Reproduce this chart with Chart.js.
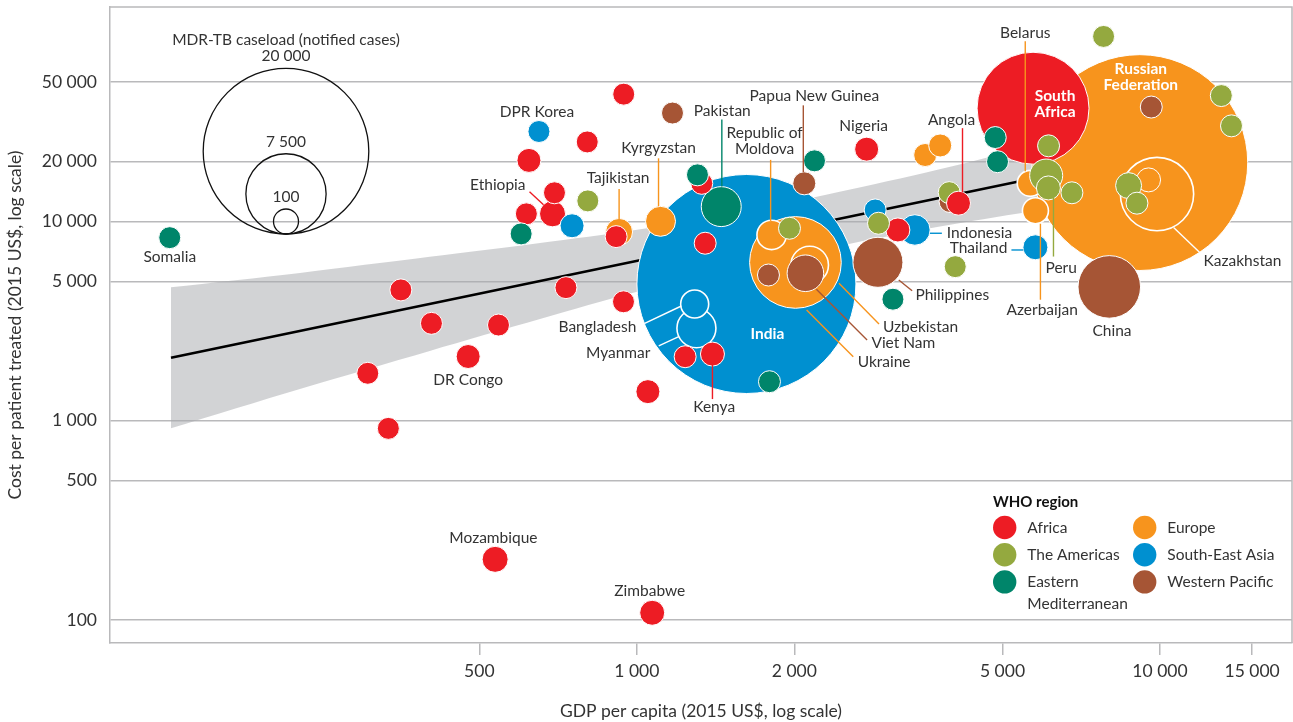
<!DOCTYPE html>
<html>
<head>
<meta charset="utf-8">
<title>MDR-TB treatment cost vs GDP per capita</title>
<script src="https://cdn.jsdelivr.net/npm/chart.js@4.4.1/dist/chart.umd.min.js"></script>
<style>
  html, body { margin: 0; padding: 0; background: #fff; }
</style>
</head>
<body>
<canvas id="chart" width="1293" height="722"></canvas>
<script>
// Countries in drawing order (largest first so small bubbles sit on top)
const countries = [
  'India', 'Russian Federation', 'South Africa', 'Ukraine', 'Kazakhstan', 'China', 'Philippines',
  'Pakistan', 'Myanmar', 'Uzbekistan', 'Viet Nam', 'Belarus', 'Azerbaijan', 'Peru', 'Indonesia',
  'Kyrgyzstan', 'Republic of Moldova', 'Bangladesh', 'Tajikistan', 'Ethiopia', 'Mozambique',
  'Zimbabwe', 'Thailand', '', '', 'DR Congo', 'Kenya', '', '', 'Nigeria', '', '', '', '', 'Angola', '',
  'Somalia', '', '', '', '', '', '', '', '', '', '', '', 'DPR Korea', '', '', '', '', '', '', '', '',
  '', '', '', 'Papua New Guinea', '', '', '', '', '', '', '', '', '', '', '', '', '', '', '', ''
];
const regions = [
  'SEAR', 'EUR', 'AFR', 'EUR', 'EUR', 'WPR', 'WPR',
  'EMR', 'SEAR', 'EUR', 'WPR', 'EUR', 'EUR', 'AMR', 'SEAR',
  'EUR', 'EUR', 'SEAR', 'EUR', 'AFR', 'AFR',
  'AFR', 'SEAR', 'EUR', 'AMR', 'AFR', 'AFR', 'AFR', 'AFR', 'AFR', 'SEAR', 'AMR', 'WPR', 'AMR', 'AFR', 'AFR',
  'EMR', 'AFR', 'AFR', 'AFR', 'AFR', 'AFR', 'AFR', 'AFR', 'AFR', 'AFR', 'EMR', 'AFR', 'SEAR', 'AFR', 'AFR', 'AFR', 'AMR', 'EMR', 'AFR', 'WPR', 'AFR',
  'EMR', 'AMR', 'EMR', 'WPR', 'WPR', 'EMR', 'SEAR', 'AMR', 'EUR', 'EUR', 'EMR', 'EMR', 'AMR', 'AMR', 'AMR', 'AMR', 'WPR', 'AMR', 'AMR', 'AMR'
];
// GDP per capita, 2015 US$
const gdpPerCapita = [
  1620, 9150, 5720, 2010, 9870, 8000, 2890,
  1450, 1300, 2140, 2100, 5650, 5780, 6060, 3400,
  1110, 1810, 1290, 925, 690, 536,
  1070, 5780, 9510, 8710, 476, 1395, 1050, 622, 2750, 752, 6120, 3970, 3955, 4120, 3155,
  128, 354, 405, 306, 335, 544, 732, 943, 1237, 1351, 1793, 944, 650, 804, 696, 615, 806, 601, 913, 1170, 1331,
  1306, 1958, 2186, 2090, 1785, 3087, 2855, 2897, 3558, 3801, 4843, 4892, 4061, 6124, 6787, 7802, 9625, 13100, 13700, 9036
];
// Cost per patient treated, 2015 US$
const costPerPatient = [
  4850, 19700, 36900, 6220, 13700, 4690, 6230,
  11850, 2910, 6040, 5490, 15500, 11300, 16960, 9050,
  10000, 8550, 3850, 8850, 10900, 202,
  109, 7410, 16130, 15100, 2100, 2160, 1400, 20200, 23000, 9500, 14700, 12560, 13930, 12330, 9050,
  8280, 4530, 3080, 1730, 916, 3020, 4650, 3950, 2095, 7765, 1570, 43400, 28200, 25000, 13900, 10900, 12660, 8650, 8380, 34900, 15500,
  17100, 9230, 20100, 15500, 5380, 4070, 11400, 9780, 21500, 24000, 26300, 19900, 5925, 23900, 13900, 84500, 37400, 42700, 30100, 12330
];
// MDR-TB notified cases
const caseload = [
  28300, 27800, 12000, 9100, 6550, 5100, 3460,
  2200, 2080, 1910, 1790, 580, 580, 1370, 1080,
  1020, 950, 800, 680, 580, 580,
  470, 470, 370, 580, 370, 370, 370, 370, 370, 370, 370, 170, 170, 370, 370,
  170, 170, 170, 170, 170, 170, 170, 170, 170, 170, 170, 170, 170, 170, 170, 170, 170, 170, 170, 170, 170,
  170, 170, 170, 270, 170, 170, 170, 170, 270, 270, 170, 170, 170, 170, 170, 170, 170, 170, 170, 170
];
const ringed = ['Bangladesh', 'Myanmar', 'Republic of Moldova', 'Uzbekistan', 'Kazakhstan', 'Belarus', 'Azerbaijan'];

// Fitted line and its confidence band
const fitGdp = [128.7, 5904];
const fitCost = [2071, 16670];
const bandGdp = [128.7, 227, 402, 653, 1001, 1647, 2557, 3972, 5904];
const bandUpper = [4675, 5514, 6635, 7783, 9066, 11356, 14424, 18770, 24400];
const bandLower = [917, 1444, 2240, 3235, 4430, 6084, 7729, 9603, 11380];

const xTickValues = [500, 1000, 2000, 5000, 10000, 15000];
const yTickValues = [100, 500, 1000, 5000, 10000, 20000, 50000];
const caseloadKey = [20000, 7500, 100];

const regionColors = {
  AFR: '#ed1c24', AMR: '#94a93f', EMR: '#00856a',
  EUR: '#f7941d', SEAR: '#0090d0', WPR: '#a65535'
};
const regionLegend = [
  ['AFR', 'Africa'], ['AMR', 'The Americas'], ['EMR', 'Eastern', 'Mediterranean'],
  ['EUR', 'Europe'], ['SEAR', 'South-East Asia'], ['WPR', 'Western Pacific']
];

const FONT = 'Lato, "Open Sans", sans-serif';
const TEXT = '#333333';
const GRID = '#b9b9bb';

// bubble radius in pixels for a caseload
function rOf(c) { return 10 + 0.0098 * Math.pow(c, 0.9); }
function fmt(v) { return v >= 1000 ? String(v).replace(/\B(?=(\d{3})+(?!\d))/g, ' ') : String(v); }

// label placement relative to each bubble centre (pixels)
const annotations = [
  { c: 'Somalia', t: ['Somalia'], dx: 0, dy: 19.5, a: 'center' },
  { c: 'DPR Korea', t: ['DPR Korea'], dx: -2, dy: -20, a: 'center' },
  { c: 'Ethiopia', t: ['Ethiopia'], dx: -27, dy: -29, a: 'right', l: [-23, -22, -9, -9] },
  { c: 'Tajikistan', t: ['Tajikistan'], dx: -1, dy: -54, a: 'center', l: [0, -43, 0, -13] },
  { c: 'Kyrgyzstan', t: ['Kyrgyzstan'], dx: -2, dy: -73, a: 'center', l: [-2, -63, -2, -15] },
  { c: 'Pakistan', t: ['Pakistan'], dx: 1, dy: -96, a: 'center', l: [0.6, -87, 0.6, -20] },
  { c: 'Republic of Moldova', t: ['Republic of', 'Moldova'], dx: -7, dy: -102, a: 'center', l: [-1, -75, -1, -14] },
  { c: 'Papua New Guinea', t: ['Papua New Guinea'], dx: 10, dy: -87, a: 'center', l: [-1, -78, -1, -11] },
  { c: 'Nigeria', t: ['Nigeria'], dx: -3, dy: -23, a: 'center' },
  { c: 'Angola', t: ['Angola'], dx: -7, dy: -83, a: 'center', l: [4, -75, 4, -11] },
  { c: 'Belarus', t: ['Belarus'], dx: -5, dy: -150, a: 'center', l: [-5, -142, -5, -12] },
  { c: 'South Africa', t: ['South', 'Africa'], dx: 22, dy: -12.5, a: 'center', bold: true },
  { c: 'Russian Federation', t: ['Russian', 'Federation'], dx: 1, dy: -94, a: 'center', bold: true },
  { c: 'India', t: ['India'], dx: 21, dy: 50, a: 'center', bold: true },
  { c: 'Indonesia', t: ['Indonesia'], dx: 32, dy: 3.3, a: 'left', l: [15, 3.3, 27, 3.3] },
  { c: 'Thailand', t: ['Thailand'], dx: -28, dy: 1, a: 'right', l: [-24, 2.7, -12, 2.7] },
  { c: 'Peru', t: ['Peru'], dx: 15, dy: 92.6, a: 'center', l: [7.3, 21, 7.3, 81] },
  { c: 'Kazakhstan', t: ['Kazakhstan'], dx: 46.6, dy: 67.4, a: 'left', l: [16.6, 33.4, 43.3, 59], lc: '#ffffff' },
  { c: 'Azerbaijan', t: ['Azerbaijan'], dx: 6.7, dy: 99, a: 'center', l: [5, 13, 5, 89] },
  { c: 'China', t: ['China'], dx: 2.7, dy: 43.7, a: 'center' },
  { c: 'Philippines', t: ['Philippines'], dx: 37.5, dy: 32.7, a: 'left', l: [20.8, 17.7, 34.2, 28.4] },
  { c: 'Uzbekistan', t: ['Uzbekistan'], dx: 73.3, dy: 61.7, a: 'left', l: [29.3, 18.3, 69.3, 59] },
  { c: 'Viet Nam', t: ['Viet Nam'], dx: 66, dy: 70, a: 'left', l: [11, 16, 61.7, 66.7] },
  { c: 'Ukraine', t: ['Ukraine'], dx: 62.2, dy: 99.2, a: 'left', l: [11.2, 47.5, 57.8, 94.2] },
  { c: 'Bangladesh', t: ['Bangladesh'], dx: -58.3, dy: 22.7, a: 'right', l: [-50, 19.3, -13.3, 2], lc: '#ffffff' },
  { c: 'Myanmar', t: ['Myanmar'], dx: -46, dy: 25, a: 'right', l: [-37.7, 17.7, -17.7, 8.4], lc: '#ffffff' },
  { c: 'DR Congo', t: ['DR Congo'], dx: 0, dy: 23.3, a: 'center' },
  { c: 'Kenya', t: ['Kenya'], dx: 1.7, dy: 52.7, a: 'center', l: [0, 9, 0, 45] },
  { c: 'Mozambique', t: ['Mozambique'], dx: -1.7, dy: -21, a: 'center' },
  { c: 'Zimbabwe', t: ['Zimbabwe'], dx: -2.4, dy: -21.7, a: 'center' }
];

const bubbleData = countries.map((c, i) => ({ x: gdpPerCapita[i], y: costPerPatient[i], r: rOf(caseload[i]) }));

// frame around the plot area
const framePlugin = {
  id: 'frame',
  beforeDatasetsDraw(chart) {
    const { ctx, chartArea: a } = chart;
    ctx.save();
    ctx.strokeStyle = GRID;
    ctx.lineWidth = 1.5;
    ctx.beginPath();
    ctx.moveTo(a.left, a.top);
    ctx.lineTo(a.right, a.top);
    ctx.lineTo(a.right, a.bottom);
    ctx.stroke();
    ctx.restore();
  }
};

// country labels + leader lines
const labelPlugin = {
  id: 'labels',
  afterDatasetsDraw(chart) {
    const { ctx, scales } = chart;
    ctx.save();
    annotations.forEach(an => {
      const i = countries.indexOf(an.c);
      if (i < 0) return;
      const px = scales.x.getPixelForValue(gdpPerCapita[i]);
      const py = scales.y.getPixelForValue(costPerPatient[i]);
      if (an.l) {
        ctx.strokeStyle = an.lc || regionColors[regions[i]];
        ctx.lineWidth = 1.4;
        ctx.beginPath();
        ctx.moveTo(px + an.l[0], py + an.l[1]);
        ctx.lineTo(px + an.l[2], py + an.l[3]);
        ctx.stroke();
      }
      ctx.fillStyle = an.bold ? '#ffffff' : TEXT;
      ctx.font = (an.bold ? 'bold 15.5px ' : '15.5px ') + FONT;
      ctx.textAlign = an.a;
      ctx.textBaseline = 'middle';
      an.t.forEach((line, k) => ctx.fillText(line, px + an.dx, py + an.dy + k * 16.5));
    });
    ctx.restore();
  }
};

// caseload key (nested circles) and WHO region key
const keyPlugin = {
  id: 'keys',
  afterDatasetsDraw(chart) {
    const { ctx, chartArea: a } = chart;
    ctx.save();
    const cx = a.left + 176, base = a.top + 227;
    ctx.fillStyle = TEXT;
    ctx.textAlign = 'center';
    ctx.textBaseline = 'middle';
    ctx.font = '15.5px ' + FONT;
    ctx.fillText('MDR-TB caseload (notified cases)', cx, a.top + 33);
    ctx.strokeStyle = '#111';
    ctx.lineWidth = 1.3;
    caseloadKey.forEach(v => {
      const r = Math.max(rOf(v), 12.5);
      ctx.beginPath();
      ctx.arc(cx, base - r, r, 0, Math.PI * 2);
      ctx.stroke();
      ctx.fillText(fmt(v), cx, base - 2 * r - 12);
    });

    // WHO region legend
    const lx = a.left + 883, ly = a.top + 495;
    ctx.textAlign = 'left';
    ctx.font = 'bold 15px ' + FONT;
    ctx.fillStyle = '#111';
    ctx.fillText('WHO region', lx, ly);
    ctx.font = '15.5px ' + FONT;
    regionLegend.forEach((it, k) => {
      const col = Math.floor(k / 3), row = k % 3;
      const ccx = lx + 11.7 + col * 140, ccy = ly + 25.5 + row * 27.2;
      ctx.fillStyle = regionColors[it[0]];
      ctx.beginPath();
      ctx.arc(ccx, ccy, 11.7, 0, Math.PI * 2);
      ctx.fill();
      ctx.fillStyle = TEXT;
      ctx.fillText(it[1], ccx + 22.6, ccy);
      if (it[2]) ctx.fillText(it[2], ccx + 22.6, ccy + 22);
    });
    ctx.restore();
  }
};

new Chart(document.getElementById('chart'), {
  type: 'bubble',
  data: {
    datasets: [
      {
        label: 'Countries',
        data: bubbleData,
        backgroundColor: regions.map(r => regionColors[r]),
        borderColor: '#ffffff',
        borderWidth: countries.map(c => ringed.includes(c) ? 1.6 : 1),
        order: 0
      },
      {
        type: 'line',
        label: 'Fit',
        data: fitGdp.map((x, i) => ({ x, y: fitCost[i] })),
        borderColor: '#000000',
        borderWidth: 2.6,
        pointRadius: 0,
        fill: false,
        order: 1
      },
      {
        type: 'line',
        label: 'Band upper',
        data: bandGdp.map((x, i) => ({ x, y: bandUpper[i] })),
        borderWidth: 0,
        borderColor: 'rgba(0,0,0,0)',
        backgroundColor: 'rgba(168,170,174,0.52)',
        pointRadius: 0,
        tension: 0.3,
        fill: '+1',
        order: 2
      },
      {
        type: 'line',
        label: 'Band lower',
        data: bandGdp.map((x, i) => ({ x, y: bandLower[i] })),
        borderWidth: 0,
        borderColor: 'rgba(0,0,0,0)',
        pointRadius: 0,
        tension: 0.3,
        fill: false,
        order: 2
      }
    ]
  },
  options: {
    responsive: false,
    animation: false,
    events: [],
    layout: { autoPadding: false, padding: { top: 7, right: 1, left: 0, bottom: 0 } },
    plugins: {
      legend: { display: false },
      tooltip: { enabled: false }
    },
    scales: {
      x: {
        type: 'logarithmic',
        min: 98.4,
        max: 17880,
        afterBuildTicks: s => { s.ticks = xTickValues.map(v => ({ value: v })); },
        afterFit: s => { s.height = 79; s.paddingLeft = 0; s.paddingRight = 0; },
        ticks: {
          callback: v => fmt(v),
          font: { family: FONT, size: 17.5 },
          color: TEXT,
          padding: 6,
          maxRotation: 0,
          autoSkip: false
        },
        grid: { drawOnChartArea: false, drawTicks: true, tickLength: 12, color: GRID, lineWidth: 1.5 },
        border: { display: true, color: GRID, width: 1.5 },
        title: {
          display: true,
          text: 'GDP per capita (2015 US$, log scale)',
          font: { family: FONT, size: 17.5 },
          color: TEXT,
          padding: { top: 0, bottom: 0 }
        }
      },
      y: {
        type: 'logarithmic',
        min: 76.9,
        max: 118700,
        afterBuildTicks: s => { s.ticks = yTickValues.map(v => ({ value: v })); },
        afterFit: s => { s.width = 110; s.paddingTop = 0; s.paddingBottom = 0; },
        ticks: {
          callback: v => fmt(v),
          font: { family: FONT, size: 17.5 },
          color: TEXT,
          padding: 13,
          autoSkip: false
        },
        grid: { drawTicks: false, color: GRID, lineWidth: 1.5 },
        border: { display: true, color: GRID, width: 1.5 },
        title: {
          display: true,
          text: 'Cost per patient treated (2015 US$, log scale)',
          font: { family: FONT, size: 17.5 },
          color: TEXT,
          padding: { top: 5, bottom: 0 }
        }
      }
    }
  },
  plugins: [framePlugin, labelPlugin, keyPlugin]
});
</script>
</body>
</html>
